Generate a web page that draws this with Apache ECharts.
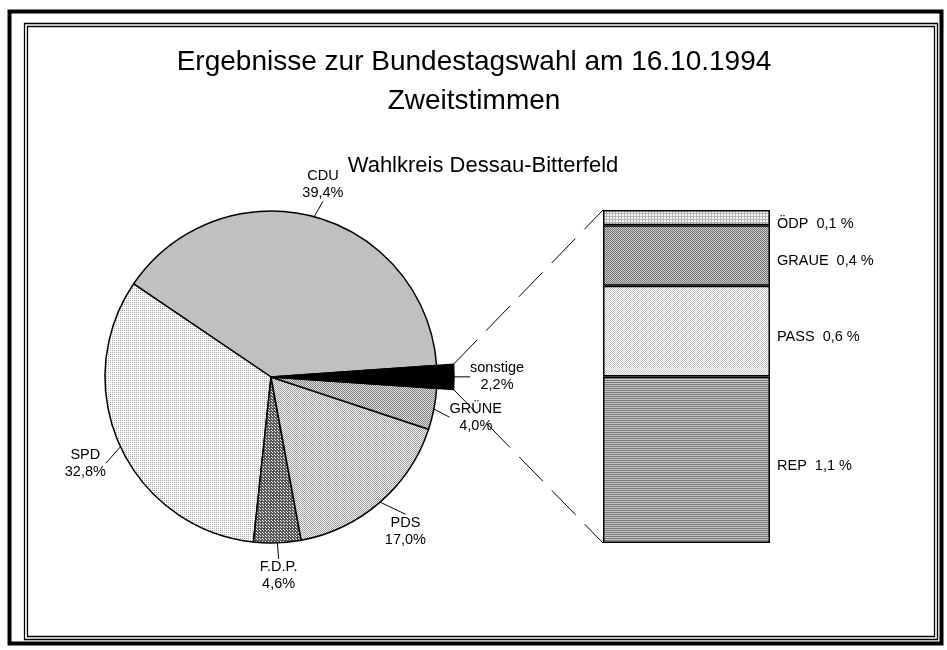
<!DOCTYPE html>
<html><head><meta charset="utf-8">
<script src="https://cdn.jsdelivr.net/npm/echarts@6/dist/echarts.min.js"></script>
<style>html,body{margin:0;padding:0;background:#fff}#c{width:947px;height:650px}</style>
</head><body><div id="c"></div>
<script>
// ---- data ----
var titleLines = ['Ergebnisse zur Bundestagswahl am 16.10.1994', 'Zweitstimmen'];
var subtitleText = 'Wahlkreis Dessau-Bitterfeld';
var pieNames = ['CDU', 'SPD', 'F.D.P.', 'PDS', 'GRÜNE', 'sonstige'];
var pieValues = [39.4, 32.8, 4.6, 17.0, 4.0, 2.2];
var otherNames = ['REP', 'PASS', 'GRAUE', 'ÖDP'];
var otherValues = [1.1, 0.6, 0.4, 0.1];
var otherCategory = ['sonstige'];

// ---- layout / style ----
var FONT = 'Liberation Sans, Arial, sans-serif';
var pieCenter = [271, 377], pieRadius = 166, pieStart = 4, bigRadius = 183;
var gridBox = {left: 603, top: 210, width: 167, height: 333};

function pat(w, h, bg, fg, cells) {
  var c = document.createElement('canvas'); c.width = w; c.height = h;
  var g = c.getContext('2d'); g.fillStyle = bg; g.fillRect(0, 0, w, h);
  g.fillStyle = fg; cells.forEach(function (p) { g.fillRect(p[0], p[1], 1, 1); });
  return {image: c, repeat: 'repeat'};
}
var pieColors = [
  '#c0c0c0',
  pat(2, 2, '#ffffff', '#a8a8a8', [[0, 0]]),
  pat(3, 3, '#5a5a5a', '#f4f4f4', [[1, 1], [2, 2]]),
  pat(2, 2, '#f2f2f2', '#a0a0a0', [[0, 0], [1, 1]]),
  pat(2, 2, '#e0e0e0', '#808080', [[0, 0], [1, 1]]),
  '#000000'
];
var otherColors = [
  pat(2, 2, '#c4c4c4', '#7a7a7a', [[0, 0], [1, 0]]),
  pat(2, 2, '#ffffff', '#c8c8c8', [[0, 0], [1, 1]]),
  pat(2, 2, '#cccccc', '#707070', [[0, 0], [1, 1]]),
  pat(3, 3, '#f6f6f6', '#b4b4b4', [[0, 0], [1, 0], [2, 0], [0, 1], [0, 2]])
];
function fmt(v) { return v.toFixed(1).replace('.', ','); }

var chart = echarts.init(document.getElementById('c'), null, {renderer: 'canvas'});
var otherTotal = otherValues.reduce(function (a, b) { return a + b; }, 0);
var pieTotal = pieValues.reduce(function (a, b) { return a + b; }, 0);
var lastIdx = pieValues.length - 1;

// angles of the highlighted (last) slice, counter-clockwise from 3 o'clock
var a0 = pieStart + 360 * (pieTotal - pieValues[lastIdx]) / pieTotal;
var a1 = pieStart + 360;

function labelLayoutFn(p) {
  var pts = p.labelLinePoints;
  if (!pts || pts.length < 2) return {};
  var a = pts[0], b = pts[1];
  var dx = b[0] - a[0], dy = b[1] - a[1], L = Math.sqrt(dx * dx + dy * dy) || 1;
  dx /= L; dy /= L;
  var w = p.labelRect.width, h = p.labelRect.height;
  var tx = Math.abs(dx) > 1e-6 ? (w / 2) / Math.abs(dx) : Infinity;
  var ty = Math.abs(dy) > 1e-6 ? (h / 2) / Math.abs(dy) : Infinity;
  var t = Math.min(tx, ty) + 2;
  return {x: b[0] + dx * t, y: b[1] + dy * t, align: 'center', verticalAlign: 'middle'};
}

function pieSeries(radius, showIdx) {
  return {
    type: 'pie',
    center: pieCenter,
    radius: radius,
    startAngle: pieStart,
    clockwise: false,
    avoidLabelOverlap: false,
    emphasis: {disabled: true},
    label: {
      show: true, position: 'outside', color: '#000', fontFamily: FONT, fontSize: 14.5, lineHeight: 17,
      formatter: function (p) { return p.name + '\n' + fmt(p.value) + '%'; }
    },
    labelLine: {show: true, length: 14, length2: 0, lineStyle: {color: '#000', width: 1}},
    labelLayout: labelLayoutFn,
    data: pieNames.map(function (n, i) {
      var vis = showIdx(i);
      return {
        name: n, value: pieValues[i],
        itemStyle: vis ? {color: pieColors[i], borderColor: '#000', borderWidth: 1.5}
                       : {color: 'rgba(0,0,0,0)', borderWidth: 0},
        label: {show: vis},
        labelLine: {show: vis}
      };
    })
  };
}

var option = {
  animation: false,
  backgroundColor: '#fff',
  title: [
    {text: titleLines.join('\n'), left: 474, top: 43, textAlign: 'center', padding: 0,
     textStyle: {fontFamily: FONT, fontSize: 28, fontWeight: 'normal', lineHeight: 39, color: '#000'}},
    {text: subtitleText, left: 483, top: 155, textAlign: 'center', padding: 0,
     textStyle: {fontFamily: FONT, fontSize: 22, fontWeight: 'normal', lineHeight: 22, color: '#000'}}
  ],
  grid: {left: gridBox.left, top: gridBox.top, width: gridBox.width, height: gridBox.height, containLabel: false},
  xAxis: {type: 'category', data: otherCategory, show: false},
  yAxis: {type: 'value', min: 0, max: otherTotal, show: false},
  series: [
    pieSeries(pieRadius, function (i) { return i !== lastIdx; }),
    pieSeries(bigRadius, function (i) { return i === lastIdx; })
  ].concat(otherNames.map(function (n, i) {
    return {
      type: 'bar', name: n, stack: 'other', barWidth: '100%',
      data: [otherValues[i]],
      emphasis: {disabled: true},
      itemStyle: {color: otherColors[i], borderColor: '#000', borderWidth: 1.5},
      label: {show: true, position: 'right', distance: 7, offset: [0, 6], color: '#000', fontFamily: FONT, fontSize: 14.5,
        formatter: function (p) { return p.seriesName + '  ' + fmt(p.value) + ' %'; }}
    };
  }))
};
chart.setOption(option);

// connecting dashed lines from the highlighted slice to the stacked bar
function piePt(deg) {
  var r = deg * Math.PI / 180;
  return [pieCenter[0] + bigRadius * Math.cos(r), pieCenter[1] - bigRadius * Math.sin(r)];
}
var topY = chart.convertToPixel({yAxisIndex: 0}, otherTotal);
var botY = chart.convertToPixel({yAxisIndex: 0}, 0);
var pTop = piePt(a1), pBot = piePt(a0);
var dash = {stroke: '#000', lineWidth: 1, lineDash: [34, 13], fill: null};
chart.setOption({
  graphic: [
    {type: 'rect', shape: {x: 9.5, y: 11.5, width: 932, height: 632}, style: {stroke: '#000', lineWidth: 4, fill: null}, silent: true},
    {type: 'rect', shape: {x: 24.5, y: 23.5, width: 913, height: 616}, style: {stroke: '#000', lineWidth: 1.3, fill: null}, silent: true},
    {type: 'rect', shape: {x: 27.5, y: 26.5, width: 907, height: 610}, style: {stroke: '#000', lineWidth: 1.3, fill: null}, silent: true},
    {type: 'line', shape: {x1: pTop[0], y1: pTop[1], x2: gridBox.left, y2: topY}, style: dash, silent: true},
    {type: 'line', shape: {x1: pBot[0], y1: pBot[1], x2: gridBox.left, y2: botY}, style: dash, silent: true}
  ]
});
</script></body></html>
